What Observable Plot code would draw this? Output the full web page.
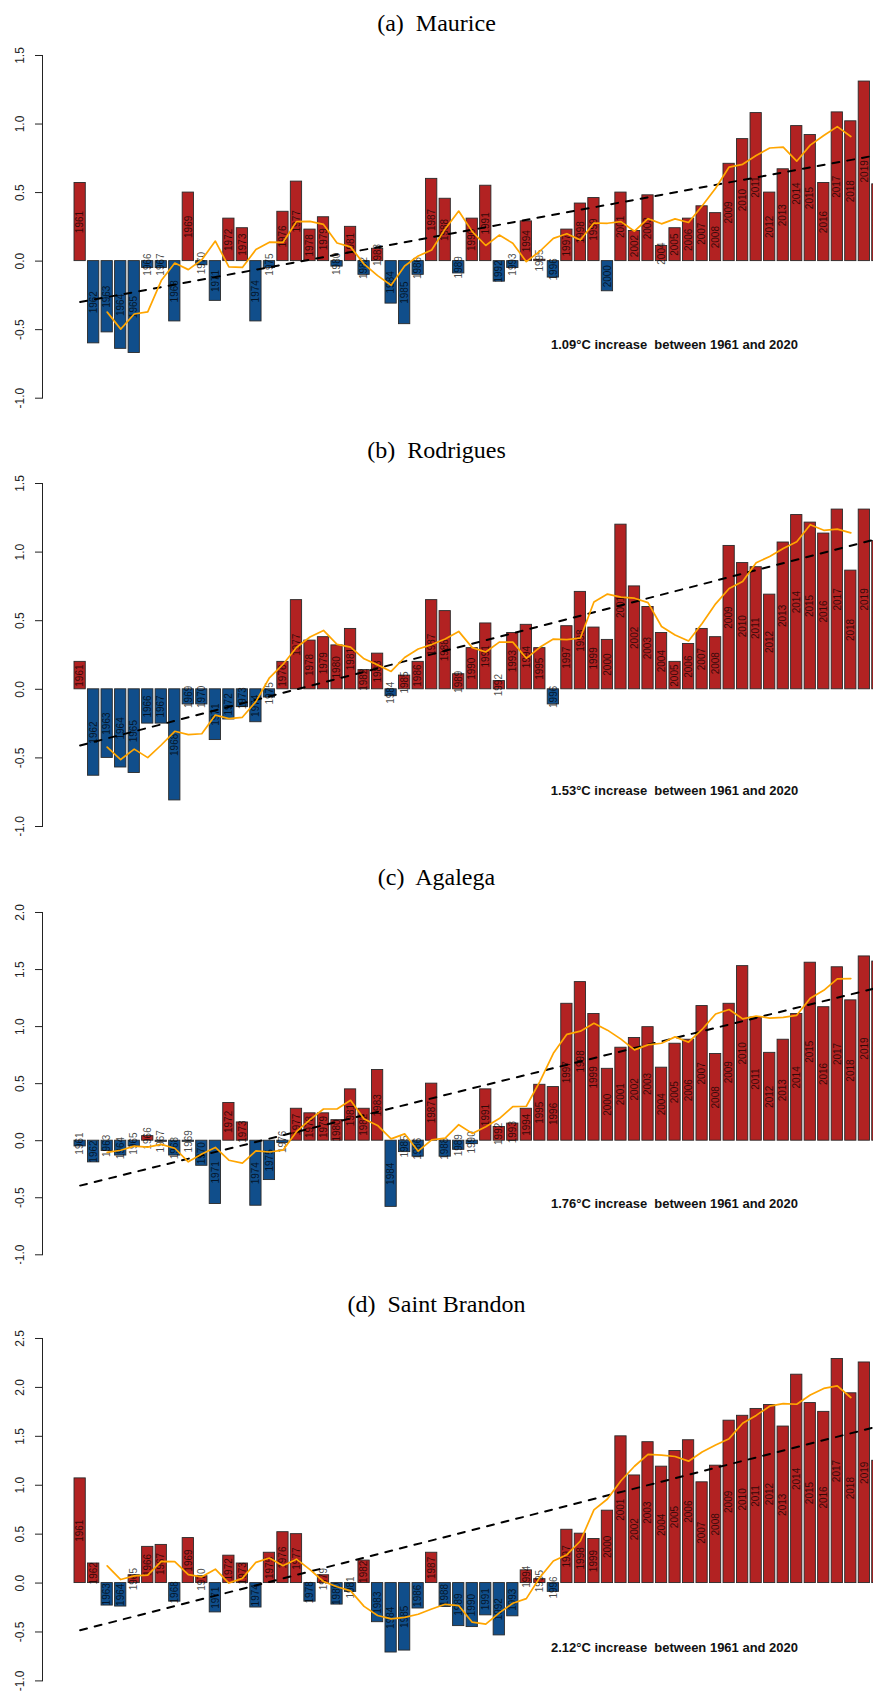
<!DOCTYPE html>
<html>
<head>
<meta charset="utf-8">
<script src="https://cdn.jsdelivr.net/npm/d3@7"></script>
<script src="https://cdn.jsdelivr.net/npm/@observablehq/plot@0.6"></script>
<style>
html, body { margin: 0; padding: 0; background: #fff; overflow: hidden; }
#root { position: relative; width: 873px; height: 1693px; overflow: hidden; background: #fff; }
.title { position: absolute; left: 0; width: 873px; text-align: center; font-family: "Liberation Serif", "Times New Roman", serif; font-size: 24px; line-height: 24px; white-space: pre; color: #000; }
svg.panel { position: absolute; left: 0; max-width: none !important; }
</style>
</head>
<body>
<div id="root"></div>
<script>
// ---- data ----
const years = d3.range(1961, 2021);

const maurice = [
  0.57, -0.60, -0.52, -0.64, -0.67, -0.05, -0.05, -0.44, 0.50, -0.03,
  -0.29, 0.31, 0.24, -0.44, -0.05, 0.36, 0.58, 0.23, 0.32, -0.04,
  0.25, -0.10, 0.09, -0.31, -0.46, -0.10, 0.60, 0.455, -0.09, 0.31,
  0.55, -0.15, -0.05, 0.29, 0.01, -0.12, 0.23, 0.42, 0.46, -0.22,
  0.50, 0.22, 0.48, 0.11, 0.24, 0.31, 0.40, 0.35, 0.71, 0.89,
  1.08, 0.50, 0.67, 0.985, 0.92, 0.57, 1.085, 1.02, 1.31, 0.56
];
const rodrigues = [
  0.20, -0.63, -0.50, -0.57, -0.61, -0.25, -0.25, -0.81, -0.11, -0.11,
  -0.37, -0.22, -0.13, -0.24, -0.06, 0.20, 0.65, 0.355, 0.38, 0.32,
  0.44, 0.14, 0.26, -0.05, 0.10, 0.20, 0.65, 0.57, 0.11, 0.30,
  0.48, 0.06, 0.41, 0.47, 0.30, -0.11, 0.46, 0.71, 0.45, 0.36,
  1.20, 0.75, 0.60, 0.41, 0.20, 0.33, 0.44, 0.38, 1.045, 0.92,
  0.89, 0.69, 1.07, 1.27, 1.215, 1.135, 1.31, 0.865, 1.31, 1.08
];
const agalega = [
  -0.05, -0.19, -0.09, -0.13, -0.05, 0.04, -0.01, -0.13, -0.01, -0.22,
  -0.555, 0.33, 0.16, -0.57, -0.345, -0.02, 0.28, 0.24, 0.24, 0.18,
  0.45, 0.28, 0.62, -0.58, -0.10, -0.14, 0.50, -0.14, -0.08, -0.03,
  0.45, 0.12, 0.15, 0.28, 0.49, 0.47, 1.20, 1.39, 1.11, 0.63,
  0.815, 0.90, 0.995, 0.64, 0.85, 0.885, 1.18, 0.76, 1.20, 1.53,
  1.08, 0.77, 0.885, 1.11, 1.56, 1.17, 1.52, 1.23, 1.615, 1.57
];
const saintBrandon = [
  1.07, 0.20, -0.23, -0.24, 0.08, 0.37, 0.39, -0.19, 0.46, 0.07,
  -0.30, 0.28, 0.20, -0.25, 0.31, 0.52, 0.50, -0.19, 0.08, -0.22,
  -0.09, 0.23, -0.40, -0.71, -0.69, -0.26, 0.31, -0.245, -0.44, -0.45,
  -0.33, -0.535, -0.34, 0.13, 0.04, -0.09, 0.545, 0.505, 0.45, 0.74,
  1.50, 1.10, 1.44, 1.19, 1.35, 1.46, 1.03, 1.20, 1.66, 1.71,
  1.78, 1.82, 1.60, 2.13, 1.84, 1.75, 2.29, 1.94, 2.255, 1.25
];

const titles = ["(a)  Maurice", "(b)  Rodrigues", "(c)  Agalega", "(d)  Saint Brandon"];
const notes = [
  "1.09°C increase  between 1961 and 2020",
  "1.53°C increase  between 1961 and 2020",
  "1.76°C increase  between 1961 and 2020",
  "2.12°C increase  between 1961 and 2020"
];
const seriesList = [maurice, rodrigues, agalega, saintBrandon];
const yTicksList = [
  [-1, -0.5, 0, 0.5, 1, 1.5],
  [-1, -0.5, 0, 0.5, 1, 1.5],
  [-1, -0.5, 0, 0.5, 1, 1.5, 2],
  [-1, -0.5, 0, 0.5, 1, 1.5, 2, 2.5]
];

// ---- layout (pixels) ----
const layout = [
  {titleBaseline: 31, axisTop: 55, axisBottom: 397.7, noteY: 339.7},
  {titleBaseline: 458, axisTop: 483, axisBottom: 826, noteY: 785},
  {titleBaseline: 885, axisTop: 911.7, axisBottom: 1254, noteY: 1197.7},
  {titleBaseline: 1312, axisTop: 1338.3, axisBottom: 1680.7, noteY: 1642.7}
];
const RED = "#B22222", BLUE = "#104E8B";
const axisX = 42, plotW = 915, noteX = 674;

const root = document.getElementById("root");

seriesList.forEach((vals, i) => {
  const L = layout[i];
  const ticks = yTicksList[i];
  const data = years.map((y, j) => ({year: y, value: vals[j]}));

  const t = document.createElement("div");
  t.className = "title";
  t.style.top = (L.titleBaseline - 20) + "px";
  t.textContent = titles[i];
  root.appendChild(t);

  const mt = 10, mb = 10;
  const h = L.axisBottom - L.axisTop + mt + mb;
  const chart = Plot.plot({
    width: plotW,
    height: h,
    marginLeft: axisX,
    marginRight: 0,
    marginTop: mt,
    marginBottom: mb,
    style: {fontFamily: "'Liberation Sans', Arial, Helvetica, sans-serif", fontSize: "12px", color: "#222", background: "transparent", maxWidth: "none"},
    x: {type: "band", domain: years, paddingInner: 1/6, paddingOuter: 0, insetLeft: 32, insetRight: 32, round: false, axis: null},
    y: {domain: [ticks[0], ticks[ticks.length - 1]], ticks: ticks, tickFormat: d => d.toFixed(1), tickRotate: -90, tickSize: 7, tickPadding: 12, line: true, label: null},
    color: {type: "identity"},
    marks: [
      Plot.barY(data, {x: "year", y: "value", fill: d => d.value >= 0 ? RED : BLUE, stroke: "#2a2a2a", strokeWidth: 0.9}),
      Plot.text(data, {x: "year", y: d => d.value / 2, text: d => String(d.year), rotate: -90, fontSize: 10, fill: "#000", fillOpacity: 0.72}),
      Plot.linearRegressionY(data, {x: "year", y: "value", ci: 0, stroke: "#000", strokeWidth: 2, strokeDasharray: "7,8"}),
      Plot.lineY(data, Plot.windowY({k: 5, anchor: "middle", strict: true}, {x: "year", y: "value", stroke: "#FFA500", strokeWidth: 1.7})),
      Plot.text([notes[i]], {frameAnchor: "top-left", dx: noteX - axisX, dy: L.noteY - L.axisTop, text: d => d, fontWeight: "bold", fontSize: 13, fill: "#111", textAnchor: "middle"})
    ]
  });
  chart.classList.add("panel");
  chart.style.top = (L.axisTop - mt) + "px";
  chart.style.left = "0px";
  chart.style.width = plotW + "px";
  chart.style.height = h + "px";
  chart.style.maxWidth = "none";
  root.appendChild(chart);
});
</script>
</body>
</html>
